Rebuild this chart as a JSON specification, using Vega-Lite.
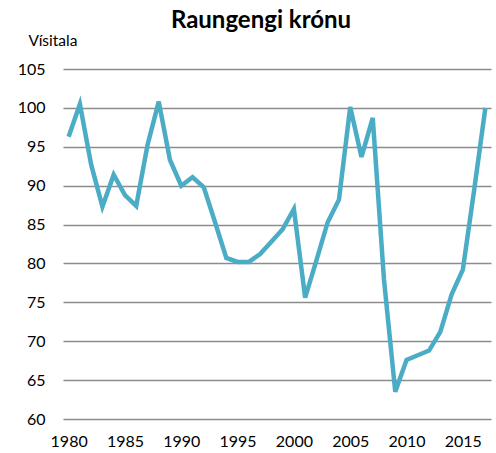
{
  "$schema": "https://vega.github.io/schema/vega-lite/v6.json",
  "autosize": "none",
  "width": 428,
  "height": 350,
  "padding": {"left": 63, "top": 69, "right": 5, "bottom": 34},
  "background": "white",
  "config": {
    "view": {"stroke": null},
    "font": "Lato"
  },
  "title": {
    "text": "Raungengi krónu",
    "fontSize": 24,
    "fontWeight": "bold",
    "color": "#000000",
    "anchor": "middle",
    "frame": "group",
    "dx": -16,
    "offset": 0,
    "font": "Lato"
  },
  "data": {
    "values": [
      {"year": 1980, "value": 96.3},
      {"year": 1981, "value": 100.5},
      {"year": 1982, "value": 92.7},
      {"year": 1983, "value": 87.3},
      {"year": 1984, "value": 91.4},
      {"year": 1985, "value": 88.8},
      {"year": 1986, "value": 87.4},
      {"year": 1987, "value": 95.2},
      {"year": 1988, "value": 100.8},
      {"year": 1989, "value": 93.3},
      {"year": 1990, "value": 90.0},
      {"year": 1991, "value": 91.1},
      {"year": 1992, "value": 89.8},
      {"year": 1993, "value": 85.3},
      {"year": 1994, "value": 80.7},
      {"year": 1995, "value": 80.2},
      {"year": 1996, "value": 80.2},
      {"year": 1997, "value": 81.2},
      {"year": 1998, "value": 82.8},
      {"year": 1999, "value": 84.4},
      {"year": 2000, "value": 87.0},
      {"year": 2001, "value": 75.6},
      {"year": 2002, "value": 80.4},
      {"year": 2003, "value": 85.3},
      {"year": 2004, "value": 88.2},
      {"year": 2005, "value": 100.1},
      {"year": 2006, "value": 93.7},
      {"year": 2007, "value": 98.7},
      {"year": 2008, "value": 77.9},
      {"year": 2009, "value": 63.5},
      {"year": 2010, "value": 67.6},
      {"year": 2011, "value": 68.2},
      {"year": 2012, "value": 68.8},
      {"year": 2013, "value": 71.2},
      {"year": 2014, "value": 76.0},
      {"year": 2015, "value": 79.2},
      {"year": 2016, "value": 89.4},
      {"year": 2017, "value": 100.0}
    ]
  },
  "mark": {"type": "line", "color": "#4BACC6", "strokeWidth": 4.5, "strokeJoin": "miter"},
  "encoding": {
    "x": {
      "field": "year",
      "type": "quantitative",
      "scale": {"domain": [1979.5, 2017.5], "nice": false, "zero": false},
      "axis": {
        "values": [1980, 1985, 1990, 1995, 2000, 2005, 2010, 2015],
        "format": "d",
        "title": null,
        "grid": false,
        "domain": false,
        "ticks": false,
        "labelPadding": 14,
        "labelFontSize": 16,
        "labelColor": "#000000",
        "labelFont": "Lato"
      }
    },
    "y": {
      "field": "value",
      "type": "quantitative",
      "scale": {"domain": [60, 105], "nice": false, "zero": false},
      "axis": {
        "values": [60, 65, 70, 75, 80, 85, 90, 95, 100, 105],
        "title": "Vísitala",
        "titleAngle": 0,
        "titleAlign": "left",
        "titleBaseline": "middle",
        "titleX": -35,
        "titleY": -29,
        "titleFontSize": 15.5,
        "titleFontWeight": "normal",
        "titleColor": "#000000",
        "titleFont": "Lato",
        "domain": false,
        "ticks": false,
        "grid": true,
        "gridColor": "#8c8c8c",
        "gridWidth": 1.3,
        "gridOpacity": 1,
        "labelPadding": 18,
        "labelFontSize": 16,
        "labelColor": "#000000",
        "labelFont": "Lato"
      }
    }
  }
}
